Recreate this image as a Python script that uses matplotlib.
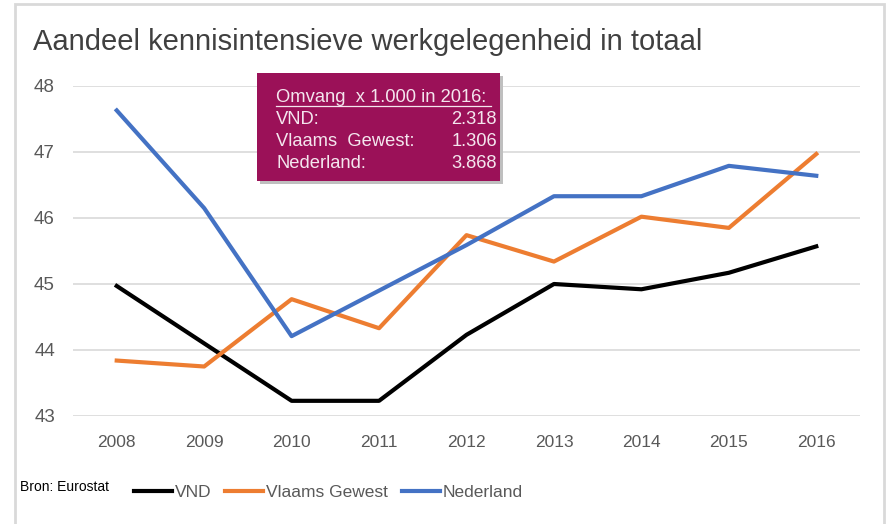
import numpy as np
import matplotlib.pyplot as plt
from matplotlib.patches import Rectangle

# data
years = ['2008', '2009', '2010', '2011', '2012', '2013', '2014', '2015', '2016']
vnd = [44.97, 44.10, 43.23, 43.23, 44.23, 45.00, 44.92, 45.17, 45.57]
vlaams = [43.84, 43.75, 44.77, 44.33, 45.74, 45.34, 46.02, 45.85, 46.97]
nederland = [47.63, 46.15, 44.21, 44.90, 45.59, 46.33, 46.33, 46.79, 46.64]
yticks = [43, 44, 45, 46, 47, 48]

box_labels = ['VND:', 'Vlaams  Gewest:', 'Nederland:']
box_values = ['2.318', '1.306', '3.868']

plt.rcParams['font.family'] = ['Liberation Sans', 'DejaVu Sans']

fig = plt.figure(figsize=(8.86, 5.24), dpi=100)
ax = fig.add_axes([73/886, 1-416/524, 787/886, 330/524])

x = np.arange(len(years))
ax.plot(x, vnd, color='black', lw=3.0, label='VND')
ax.plot(x, vlaams, color='#ED7D31', lw=3.0, label='Vlaams Gewest')
ax.plot(x, nederland, color='#4472C4', lw=3.0, label='Nederland')

ax.set_xlim(-0.5, len(years) - 0.5)
ax.set_ylim(43, 48)
ax.set_yticks(yticks)
ax.set_xticks(x)
ax.set_xticklabels(years)
ax.grid(axis='y', color='#D9D9D9', lw=1.2)
ax.set_axisbelow(True)
for s in ax.spines.values():
    s.set_visible(False)
ax.tick_params(length=0, labelsize=12.5, labelcolor='#595959')
ax.tick_params(axis='y', pad=13, labelsize=13.5)
ax.tick_params(axis='x', pad=14)

# title
fig.text(33/886, 1-42/524, 'Aandeel kennisintensieve werkgelegenheid in totaal',
         fontsize=21, color='#404040', va='center', ha='left')

# info box
fig.patches.append(Rectangle((260/886, 1-184/524), 243/886, 108/524, transform=fig.transFigure,
                             facecolor='#BFBFBF', edgecolor='none', zorder=5))
fig.patches.append(Rectangle((257/886, 1-181/524), 243/886, 108/524, transform=fig.transFigure,
                             facecolor='#9B1158', edgecolor='none', zorder=6))
tc = '#F4E6EE'
fig.text(276/886, 1-97/524, 'Omvang  x 1.000 in 2016:', color=tc, fontsize=13.2,
         va='center', ha='left', zorder=7)
fig.add_artist(plt.Line2D([276/886, 491/886], [1-106/524, 1-106/524], color=tc, lw=0.9,
                          transform=fig.transFigure, zorder=7))
for i, (lab, val) in enumerate(zip(box_labels, box_values)):
    yy = 1 - (119 + 22*i)/524
    fig.text(276/886, yy, lab, color=tc, fontsize=13.2, va='center', ha='left', zorder=7)
    fig.text(497/886, yy, val, color=tc, fontsize=13.2, va='center', ha='right', zorder=7)

# source and legend
fig.text(20/886, 1-487/524, 'Bron: Eurostat', fontsize=10, color='black', va='center')
fig.legend(loc='center left', bbox_to_anchor=(118/886, 1-492/524), ncol=3, frameon=False,
           handlelength=2.2, handletextpad=0.15, columnspacing=0.8,
           prop={'size': 12.5}, labelcolor='#595959')

# outer frame
fig.patches.append(Rectangle((15/886, -0.01), 869/886, 1-4/524 + 0.01, transform=fig.transFigure,
                             facecolor='none', edgecolor='#D9D9D9', lw=2))

fig.savefig('out.png', dpi=100)
